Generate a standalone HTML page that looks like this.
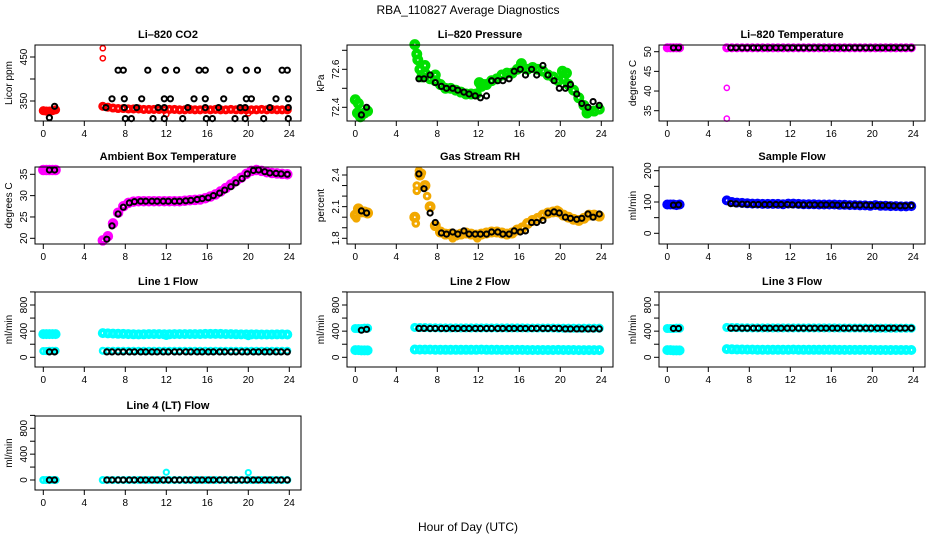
<!DOCTYPE html>
<html><head><meta charset="utf-8">
<style>
html,body{margin:0;padding:0;background:#fff;}
svg{display:block;font-family:"Liberation Sans",Arial,sans-serif;}
</style></head>
<body>
<svg id="chart" width="936" height="540" viewBox="0 0 936 540">
<text x="468" y="14" text-anchor="middle" font-size="12">RBA_110827  Average Diagnostics</text>
<text x="468" y="531" text-anchor="middle" font-size="12">Hour of Day (UTC)</text>
</svg>
<script>
// shared hours
const hrsC = [0,0.3,0.6,0.9,1.2,5.8,6.3,6.8,7.3,7.8,8.3,8.8,9.3,9.8,10.3,10.8,11.3,11.8,12.3,12.8,13.3,13.8,14.3,14.8,15.3,15.8,16.3,16.8,17.3,17.8,18.3,18.8,19.3,19.8,20.3,20.8,21.3,21.8,22.3,22.8,23.3,23.8];
const hrsB = [0.6,1.1,6.2,6.7,7.3,7.8,8.4,8.9,9.5,10.0,10.6,11.1,11.7,12.2,12.8,13.3,13.9,14.4,15.0,15.5,16.1,16.6,17.2,17.7,18.3,18.8,19.4,19.9,20.5,21.0,21.6,22.1,22.7,23.2,23.8];
const xTicks = [0,4,8,12,16,20,24];

// CO2
const co2Red = [328,327,327,328,330,338,336,334,333,333,332,332,332,331,331,331,331,331,331,331,330,330,331,330,330,331,330,331,330,330,331,330,330,330,330,330,331,330,331,330,330,330];
const co2RedExtraX = [5.8,5.8,12.0,20.0];
const co2RedExtraY = [470,447,320,322];
const co2BlackX = [0.6,1.1,6.1,6.7,7.3,7.8,7.9,7.9,8.0,8.6,9.1,9.6,10.2,10.7,11.2,11.8,11.8,11.9,11.8,12.4,13.0,13.6,14.1,14.7,15.2,15.8,15.8,15.8,15.9,16.5,17.1,17.6,18.2,18.7,19.2,19.7,19.8,19.8,19.7,20.3,20.9,21.5,22.1,22.7,23.3,23.8,23.9,23.9,23.9];
const co2BlackY = [312,338,335,355,420,420,355,335,310,310,335,355,420,310,335,335,355,420,310,355,420,310,335,355,420,420,355,335,310,310,335,355,420,310,335,335,355,420,310,355,420,310,335,355,420,420,355,335,310];
// Pressure
const presGreen = [72.44,72.42,72.36,72.37,72.38,72.73,72.6,72.58,72.55,72.54,72.52,72.5,72.5,72.49,72.48,72.47,72.47,72.47,72.51,72.52,72.54,72.55,72.57,72.58,72.58,72.6,72.61,72.6,72.61,72.6,72.59,72.57,72.56,72.54,72.55,72.52,72.49,72.45,72.41,72.38,72.38,72.39];
const presGreenExtraX = [0.2,0.5,6.0,6.1,6.5,6.8,12.1,12.5,20.2,20.6,7.8,16.2,22.6];
const presGreenExtraY = [72.37,72.35,72.68,72.65,72.56,72.62,72.53,72.52,72.59,72.58,72.57,72.63,72.37];
const presBlack = [72.36,72.4,72.55,72.55,72.57,72.53,72.51,72.5,72.5,72.49,72.48,72.47,72.46,72.45,72.46,72.54,72.54,72.54,72.55,72.59,72.6,72.57,72.6,72.57,72.62,72.57,72.54,72.5,72.5,72.52,72.47,72.42,72.4,72.43,72.41];
// Li-820 temperature
const ltMag = [51,51,51,51,51,51,51,51,51,51,51,51,51,51,51,51,51,51,51,51,51,51,51,51,51,51,51,51,51,51,51,51,51,51,51,51,51,51,51,51,51,51];
const ltMagExtraX = [5.8,5.8];
const ltMagExtraY = [40.8,33];
const ltBlack = [51,51,51,51,51,51,51,51,51,51,51,51,51,51,51,51,51,51,51,51,51,51,51,51,51,51,51,51,51,51,51,51,51,51,51];
// Ambient box temperature
const abMag = [36,36,36,36,36,19.5,20.5,23.5,26,27.5,28.3,28.6,28.7,28.7,28.7,28.7,28.7,28.7,28.7,28.7,28.7,28.8,28.9,29,29.1,29.4,29.8,30.3,31,31.8,32.6,33.4,34.2,35.1,35.8,36,35.8,35.5,35.3,35.2,35.1,35];
const abBlack = [36,36,19.8,22.9,25.7,27.3,28.3,28.6,28.7,28.7,28.7,28.7,28.7,28.7,28.7,28.7,28.8,28.9,29.1,29.3,29.5,30,30.6,31.3,32.1,33,34,35.1,35.9,36,35.6,35.3,35.2,35.1,35];
// Gas stream RH
const rhOrange = [2.02,2.08,2.05,2.05,2.04,2.0,2.4,2.3,2.1,1.92,1.86,1.84,1.84,1.83,1.84,1.85,1.84,1.83,1.84,1.85,1.86,1.86,1.85,1.84,1.85,1.88,1.9,1.94,1.97,1.99,2.02,2.04,2.05,2.05,2.02,2.0,1.98,1.97,1.99,2.02,2.02,2.01];
const rhOrangeExtraX = [5.9,6.0,6.2,6.5,7.0,6.0,0.1,9.5,11.9,19.7];
const rhOrangeExtraY = [1.94,2.3,2.44,2.42,2.2,2.25,1.99,1.8,1.8,2.07];
const rhBlack = [2.06,2.04,2.41,2.27,2.04,1.95,1.85,1.84,1.86,1.84,1.87,1.84,1.84,1.84,1.84,1.86,1.86,1.84,1.84,1.87,1.86,1.87,1.95,1.95,1.97,2.04,2.05,2.04,2.0,1.99,1.98,1.99,2.03,2.0,2.03];
// Sample flow
const sfBlue = [92,92,92,90,92,105,100,98,97,96,95,95,94,94,94,94,93,95,95,94,93,93,93,92,92,92,92,91,91,90,90,89,89,88,90,88,88,87,87,86,86,87];
const sfBlack = [90,91,95,94,93,93,92,92,92,92,92,92,92,91,91,91,91,91,91,91,91,90,90,90,90,90,90,89,89,89,89,88,88,88,89];
// Line flows
const l1Upper = [355,355,355,355,355,370,365,362,360,358,355,352,350,352,355,355,355,352,352,355,355,355,355,355,355,358,358,358,358,355,355,352,350,350,350,350,348,348,348,350,350,348];
const l1Lower = [95,95,100,100,100,100,100,100,100,100,100,100,100,100,100,100,100,100,100,100,100,100,100,100,100,100,100,100,100,100,100,100,100,100,100,100,100,100,100,100,100,100];
const l1ExtraX = [12.0,20.0];
const l1ExtraY = [320,315];
const l1Black = [82,82,82,82,82,82,82,82,82,82,82,82,82,82,82,82,82,82,82,82,82,82,82,82,82,82,82,82,82,82,82,82,82,82,82];
const l2Upper = [440,440,440,445,445,458,455,455,452,452,450,450,450,450,450,450,450,450,450,450,450,450,450,450,450,450,450,448,448,448,448,448,448,445,445,445,445,445,445,445,445,445];
const l2Lower = [110,110,105,105,105,120,118,118,118,116,116,115,115,115,115,115,115,115,118,115,114,114,113,113,113,113,113,112,112,112,112,112,112,113,112,111,111,110,110,110,110,110];
const l2Black = [415,428,442,442,440,440,440,440,440,440,440,440,440,440,440,440,440,440,440,440,440,440,440,440,440,440,440,440,435,435,435,435,435,435,435];
const l3Upper = [440,440,440,445,445,458,455,455,452,452,450,450,450,450,450,450,450,450,450,450,450,450,450,450,450,450,450,448,448,448,448,448,448,445,445,445,445,445,445,445,445,445];
const l3Lower = [110,110,105,105,105,125,122,120,120,118,118,117,117,116,116,116,116,116,118,116,115,115,114,114,114,114,114,113,113,113,113,113,113,113,112,112,112,111,111,111,111,111];
const l3Black = [440,440,445,445,445,445,445,445,445,445,445,445,445,445,445,445,445,445,445,445,445,445,445,445,445,445,445,445,445,445,445,445,445,445,445];
const l4Cyan = [0,0,0,0,0,0,0,0,0,0,0,0,0,0,0,0,0,0,0,0,0,0,0,0,0,0,0,0,0,0,0,0,0,0,0,0,0,0,0,0,0,0];
const l4ExtraX = [12.0,20.0];
const l4ExtraY = [120,115];
const l4Black = [0,0,0,0,0,0,0,0,0,0,0,0,0,0,0,0,0,0,0,0,0,0,0,0,0,0,0,0,0,0,0,0,0,0,0];

const NS = 'http://www.w3.org/2000/svg';
const svg = document.getElementById('chart');
function mk(tag, attrs, parent){const e=document.createElementNS(NS,tag);for(const k in attrs)e.setAttribute(k,attrs[k]);(parent||svg).appendChild(e);return e;}

const rowTop=[45,167,292,416], rowBot=[121,244,367,490];
const panels = [
 {id:'co2',title:'Li\u2013820 CO2',ylab:'Licor ppm',col:0,row:0,cal:[350,101,450,57],ticks:[350,400,450],labels:[350,450],
  series:[{x:hrsC,y:co2Red,c:'#ff0000',w:3.5,r:2.8},{x:co2RedExtraX,y:co2RedExtraY,c:'#ff0000',w:1.5,r:2.6},{x:co2BlackX,y:co2BlackY,c:'#000',w:2,r:2.6}]},
 {id:'pressure',title:'Li\u2013820 Pressure',ylab:'kPa',col:1,row:0,cal:[72.4,107.3,72.6,69.3],ticks:[72.4,72.5,72.6,72.7],labels:[72.4,72.6],
  series:[{x:hrsC,y:presGreen,c:'#00e000',w:4.5,r:3.2},{x:presGreenExtraX,y:presGreenExtraY,c:'#00e000',w:4.5,r:3.2},{x:hrsB,y:presBlack,c:'#000',w:2,r:2.6}]},
 {id:'li-temp',title:'Li\u2013820 Temperature',ylab:'degrees C',col:2,row:0,cal:[35,110.7,50,51.7],ticks:[35,40,45,50],labels:[35,40,45,50],
  series:[{x:hrsC,y:ltMag,c:'#ff00ff',w:3.5,r:2.8},{x:ltMagExtraX,y:ltMagExtraY,c:'#ff00ff',w:1.5,r:2.6},{x:hrsB,y:ltBlack,c:'#000',w:2,r:2.6}]},
 {id:'ambient',title:'Ambient Box Temperature',ylab:'degrees C',col:0,row:1,cal:[20,238.3,35,174.3],ticks:[20,25,30,35],labels:[20,25,30,35],
  series:[{x:hrsC,y:abMag,c:'#ff00ff',w:4.5,r:3},{x:hrsB,y:abBlack,c:'#000',w:2,r:2.6}]},
 {id:'rh',title:'Gas Stream RH',ylab:'percent',col:1,row:1,cal:[1.8,238.3,2.4,175],ticks:[1.8,1.9,2.0,2.1,2.2,2.3,2.4],labels:[1.8,2.1,2.4],
  series:[{x:hrsC,y:rhOrange,c:'#f2a800',w:4.5,r:3.2},{x:rhOrangeExtraX,y:rhOrangeExtraY,c:'#f2a800',w:3,r:2.8},{x:hrsB,y:rhBlack,c:'#000',w:2,r:2.6}]},
 {id:'sample-flow',title:'Sample Flow',ylab:'ml/min',col:2,row:1,cal:[0,233.3,200,170.7],ticks:[0,50,100,150,200],labels:[0,100,200],
  series:[{x:hrsC,y:sfBlue,c:'#0000ff',w:4,r:3},{x:hrsB,y:sfBlack,c:'#000',w:2,r:2.6}]},
 {id:'line1',title:'Line 1 Flow',ylab:'ml/min',col:0,row:2,cal:[0,357.3,800,305],ticks:[0,200,400,600,800,1000],labels:[0,400,800],
  series:[{x:hrsC,y:l1Upper,c:'#00ffff',w:4,r:3},{x:hrsC,y:l1Lower,c:'#00ffff',w:2.5,r:2.8},{x:l1ExtraX,y:l1ExtraY,c:'#00ffff',w:2,r:2.6},{x:hrsB,y:l1Black,c:'#000',w:2,r:2.6}]},
 {id:'line2',title:'Line 2 Flow',ylab:'ml/min',col:1,row:2,cal:[0,357.3,800,305],ticks:[0,200,400,600,800,1000],labels:[0,400,800],
  series:[{x:hrsC,y:l2Upper,c:'#00ffff',w:3.5,r:2.8},{x:hrsC,y:l2Lower,c:'#00ffff',w:4,r:3},{x:hrsB,y:l2Black,c:'#000',w:2,r:2.6}]},
 {id:'line3',title:'Line 3 Flow',ylab:'ml/min',col:2,row:2,cal:[0,357.3,800,305],ticks:[0,200,400,600,800,1000],labels:[0,400,800],
  series:[{x:hrsC,y:l3Upper,c:'#00ffff',w:3.5,r:2.8},{x:hrsC,y:l3Lower,c:'#00ffff',w:4,r:3},{x:hrsB,y:l3Black,c:'#000',w:2,r:2.6}]},
 {id:'line4',title:'Line 4 (LT) Flow',ylab:'ml/min',col:0,row:3,cal:[0,480,800,428.3],ticks:[0,200,400,600,800,1000],labels:[0,400,800],
  series:[{x:hrsC,y:l4Cyan,c:'#00ffff',w:2.5,r:2.8},{x:l4ExtraX,y:l4ExtraY,c:'#00ffff',w:2,r:2.6},{x:hrsB,y:l4Black,c:'#000',w:2,r:2.6}]}
];

panels.forEach(p=>{
  const L=35+312*p.col, R=301+312*p.col, T=rowTop[p.row], B=rowBot[p.row];
  const xs=h=>L+8.3+h*10.25;
  const [v1,p1,v2,p2]=p.cal;
  const ys=v=>p1+(v-v1)*(p2-p1)/(v2-v1);
  const g=mk('g',{});
  
  
  const ttl=mk('text',{x:(L+R)/2,y:T-7,'text-anchor':'middle','font-size':'11','font-weight':'bold'},g);
  ttl.textContent=p.title;
  
  
  const yl=mk('text',{x:0,y:0,'text-anchor':'middle','font-size':'10',transform:`translate(${L-23},${(T+B)/2}) rotate(-90)`},g);
  yl.textContent=p.ylab;
  
  
  const dg=mk('g',{},g);
  
  
  p.series.forEach(s=>{
    for(let i=0;i<s.x.length;i++){
      const c=mk('circle',{cx:xs(s.x[i]).toFixed(1),cy:ys(s.y[i]).toFixed(1),r:s.r,fill:'none',stroke:s.c,'stroke-width':s.w},dg);
      
      
    }
  });
  const bx=mk('rect',{x:L,y:T,width:R-L,height:B-T,fill:'none',stroke:'#000','stroke-width':1},g);
  
  
  const xa=mk('g',{},g);
  
  
  mk('line',{x1:xs(xTicks[0]),x2:xs(xTicks[xTicks.length-1]),y1:B,y2:B,stroke:'#000'},xa);
  xTicks.forEach(t=>{
    mk('line',{x1:xs(t),x2:xs(t),y1:B,y2:B+5,stroke:'#000'},xa);
    const tx=mk('text',{x:xs(t),y:B+16,'text-anchor':'middle','font-size':'10'},xa);
    tx.textContent=String(t);
    
    
  });
  const ya=mk('g',{},g);
  
  
  const tv=p.ticks.filter(t=>ys(t)>=T-1&&ys(t)<=B+1);
  mk('line',{x1:L,x2:L,y1:ys(tv[0]),y2:ys(tv[tv.length-1]),stroke:'#000'},ya);
  tv.forEach(t=>{
    mk('line',{x1:L-5,x2:L,y1:ys(t),y2:ys(t),stroke:'#000'},ya);
  });
  p.labels.forEach(t=>{
    const tx=mk('text',{x:0,y:0,'text-anchor':'middle','font-size':'10',transform:`translate(${L-8},${ys(t)}) rotate(-90)`},ya);
    tx.textContent=String(t);
    
    
  });
});
</script>
</body></html>
